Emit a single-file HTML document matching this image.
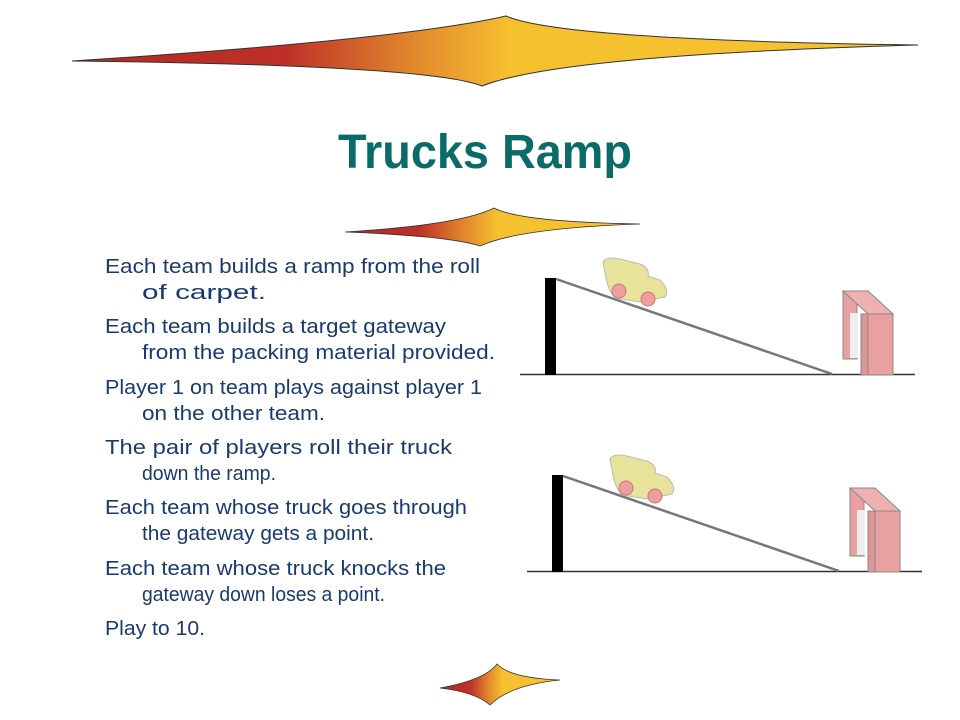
<!DOCTYPE html>
<html><head><meta charset="utf-8"><style>
html,body{margin:0;padding:0;background:#fff;width:960px;height:720px;overflow:hidden}
</style></head><body>
<svg width="960" height="720" viewBox="0 0 960 720" xmlns="http://www.w3.org/2000/svg">
<defs>
<linearGradient id="g" x1="0" y1="0" x2="1" y2="0">
<stop offset="0" stop-color="#b52a26"/><stop offset="0.25" stop-color="#be2f27"/><stop offset="0.4" stop-color="#e0862c"/><stop offset="0.52" stop-color="#f6c12f"/><stop offset="1" stop-color="#f6c12f"/>
</linearGradient>
</defs>
<path d="M72,61 Q400,40 506,16 Q560,40 918,45 Q560,55 482,86 Q430,65 72,61 Z" fill="url(#g)" stroke="#333" stroke-width="1"/>
<path d="M345,232 Q460,225 494,208 Q520,222 640,224 Q520,228 480,246 Q450,236 345,232 Z" fill="url(#g)" stroke="#333" stroke-width="0.8"/>
<path d="M440,688 Q485,680 497,664 Q510,678 560,680 Q510,685 490,705 Q475,692 440,688 Z" fill="url(#g)" stroke="#333" stroke-width="0.8"/>
<text x="485" y="168" text-anchor="middle" font-family="Liberation Sans, sans-serif" font-weight="bold" font-size="48" fill="#0b6b68" textLength="294" lengthAdjust="spacingAndGlyphs">Trucks Ramp</text>
<g font-family="Liberation Sans, sans-serif" font-size="20" fill="#1a3a6e" lengthAdjust="spacingAndGlyphs">
<text x="105" y="273" textLength="375" lengthAdjust="spacingAndGlyphs">Each team builds a ramp from the roll</text>
<text x="142" y="299" textLength="124" lengthAdjust="spacingAndGlyphs">of carpet.</text>
<text x="105" y="333" textLength="341" lengthAdjust="spacingAndGlyphs">Each team builds a target gateway</text>
<text x="142" y="359" textLength="353" lengthAdjust="spacingAndGlyphs">from the packing material provided.</text>
<text x="105" y="394" textLength="377" lengthAdjust="spacingAndGlyphs">Player 1 on team plays against player 1</text>
<text x="142" y="420" textLength="183" lengthAdjust="spacingAndGlyphs">on the other team.</text>
<text x="105" y="454" textLength="347" lengthAdjust="spacingAndGlyphs">The pair of players roll their truck</text>
<text x="142" y="480" textLength="134" lengthAdjust="spacingAndGlyphs">down the ramp.</text>
<text x="105" y="514" textLength="362" lengthAdjust="spacingAndGlyphs">Each team whose truck goes through</text>
<text x="142" y="540" textLength="232" lengthAdjust="spacingAndGlyphs">the gateway gets a point.</text>
<text x="105" y="575" textLength="341" lengthAdjust="spacingAndGlyphs">Each team whose truck knocks the</text>
<text x="142" y="601" textLength="243" lengthAdjust="spacingAndGlyphs">gateway down loses a point.</text>
<text x="105" y="635" textLength="100" lengthAdjust="spacingAndGlyphs">Play to 10.</text>
</g>
<g id="scene">
<line x1="520" y1="374.5" x2="915" y2="374.5" stroke="#333" stroke-width="1.5"/>
<rect x="545" y="278" width="11" height="97" fill="#000"/>
<line x1="556" y1="279" x2="832" y2="374" stroke="#777" stroke-width="2.5"/>
<!-- truck -->
<path d="M603,262 Q606,256 620,259 L640,264 Q650,268 648,276 L660,280 Q670,290 665,297 L640,302 L615,298 Q608,290 606,278 Z" fill="#e8e39a" stroke="#bbb" stroke-width="1"/>
<circle cx="619" cy="291" r="7" fill="#ee9e9e" stroke="#c77" stroke-width="1"/>
<circle cx="648" cy="299" r="7" fill="#ee9e9e" stroke="#c77" stroke-width="1"/>
<!-- gate -->
<rect x="843" y="292" width="14" height="67" fill="#e8a0a0" stroke="#888" stroke-width="1"/>
<path d="M843,291 L868,291 L893,314 L868,314 Z" fill="#eeb0b0" stroke="#888" stroke-width="1"/>
<rect x="850" y="313" width="8" height="45" fill="#eee"/>
<rect x="861" y="314" width="7" height="61" fill="#dd9595" stroke="#888" stroke-width="1"/>
<rect x="868" y="314" width="25" height="61" fill="#e8a0a0" stroke="#888" stroke-width="1"/>
</g>
<use href="#scene" transform="translate(7,197)"/>
</svg>
</body></html>
